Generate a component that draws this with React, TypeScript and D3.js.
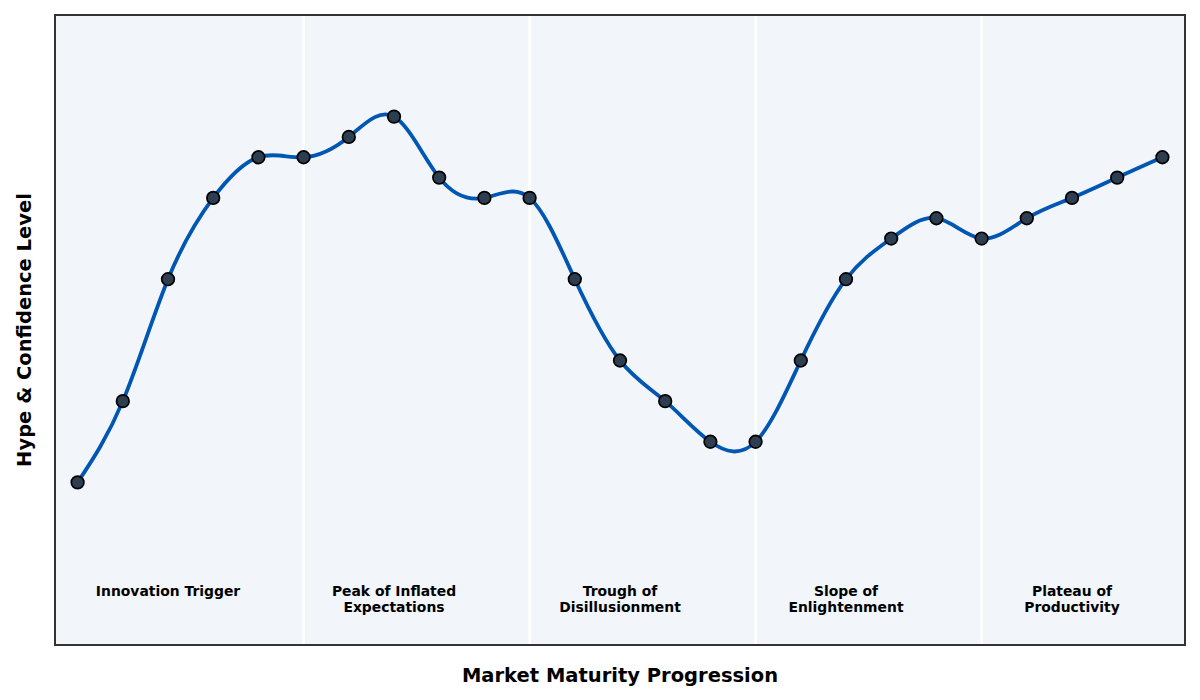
import React from "react";
import * as d3 from "d3";

const stepIndex: number[] = Array.from({ length: 25 }, (_, i) => i);
const hypeValues: number[] = [10, 30, 60, 80, 90, 90, 95, 100, 85, 80, 80, 60, 40, 30, 20, 20, 40, 60, 70, 75, 70, 75, 80, 85, 90];
const phaseNames: string[][] = [
  ["Innovation Trigger"],
  ["Peak of Inflated", "Expectations"],
  ["Trough of", "Disillusionment"],
  ["Slope of", "Enlightenment"],
  ["Plateau of", "Productivity"],
];
const phaseCenters: number[] = [2, 7, 12, 17, 22];
const phaseBoundaries: number[] = [5, 10, 15, 20];

const W = 1200;
const H = 700;
const M = { left: 55, right: 15, top: 15, bottom: 55 };

export default function App() {
  const x = d3.scaleLinear().domain([-0.5, 24.5]).range([M.left, W - M.right]);
  const y = d3.scaleLinear().domain([-30, 125]).range([H - M.bottom, M.top]);
  const line = d3
    .line<number>()
    .x((_, i) => x(stepIndex[i]))
    .y((d) => y(d))
    .curve(d3.curveNatural);
  const font = "'DejaVu Sans', sans-serif";
  return (
    <svg width={W} height={H} style={{ position: "absolute", left: 0, top: 0, background: "#fff" }}>
      <rect x={M.left} y={M.top} width={W - M.left - M.right} height={H - M.top - M.bottom} fill="#f2f6fa" />
      {phaseBoundaries.map((b) => (
        <line key={b} x1={x(b)} x2={x(b)} y1={M.top} y2={H - M.bottom} stroke="#ffffff" strokeWidth={2.5} />
      ))}
      <path d={line(hypeValues) || ""} fill="none" stroke="#0057b3" strokeWidth={3.8} strokeLinejoin="round" />
      {hypeValues.map((v, i) => (
        <circle key={i} cx={x(stepIndex[i])} cy={y(v)} r={6.3} fill="#2c3e50" stroke="#000" strokeWidth={1.7} />
      ))}
      {phaseNames.map((lines, k) => (
        <text key={k} x={x(phaseCenters[k])} y={596} textAnchor="middle" fontFamily={font} fontWeight="bold" fontSize={13.9} fill="#000">
          {lines.map((t, j) => (
            <tspan key={j} x={x(phaseCenters[k])} dy={j === 0 ? 0 : 15.5}>
              {t}
            </tspan>
          ))}
        </text>
      ))}
      <rect x={M.left} y={M.top} width={W - M.left - M.right} height={H - M.top - M.bottom} fill="none" stroke="#333" strokeWidth={2} />
      <text x={(M.left + W - M.right) / 2} y={682} textAnchor="middle" fontFamily={font} fontWeight="bold" fontSize={19.5} fill="#000">
        Market Maturity Progression
      </text>
      <text transform={`translate(31,${(M.top + H - M.bottom) / 2}) rotate(-90)`} textAnchor="middle" fontFamily={font} fontWeight="bold" fontSize={19.5} fill="#000">
        Hype &amp; Confidence Level
      </text>
    </svg>
  );
}
